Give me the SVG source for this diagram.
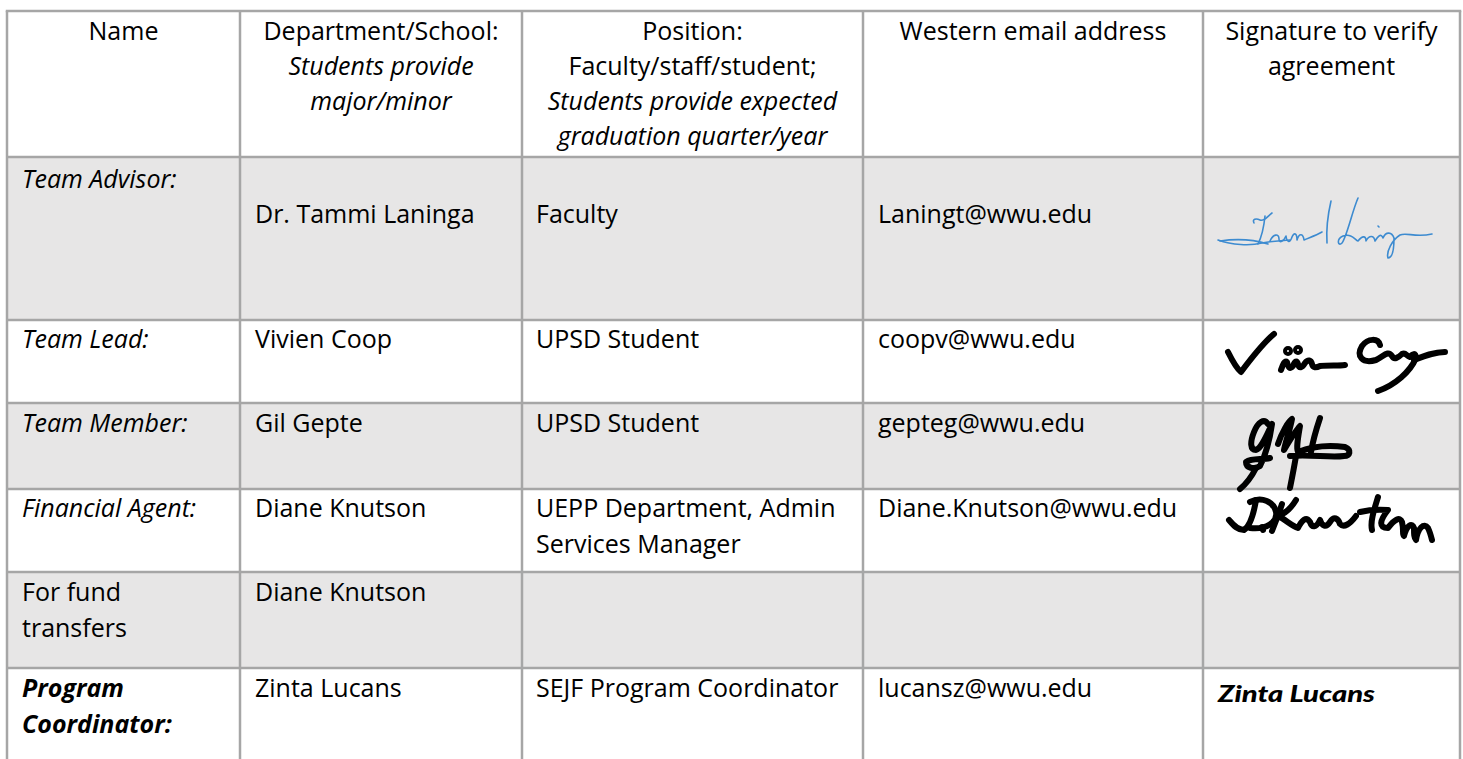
<svg xmlns="http://www.w3.org/2000/svg" width="1463" height="759" viewBox="0 0 1463 759">
<style>
  text { font-family: "Open Sans", "Noto Sans", "Liberation Sans", sans-serif; font-size: 25px; fill: #000; }
  .c { text-anchor: middle; }
  .i { font-style: italic; }
  .b { font-weight: bold; }
  .gray { fill: #E7E6E6; }
  .white { fill: #FFFFFF; }
  .grid line { stroke: #A6A6A6; stroke-width: 2.5; }
  .sig { fill: none; stroke: #000; stroke-width: 6; stroke-linecap: round; stroke-linejoin: round; }
  .sigblue { fill: none; stroke: #3D8BD0; stroke-width: 1.6; stroke-linecap: round; stroke-linejoin: round; }
</style>
<rect x="0" y="0" width="1463" height="759" fill="#FFFFFF"/>
<g id="row-fills">
  <rect class="white" x="7" y="11" width="1453" height="146"/>
  <rect class="gray" x="7" y="157" width="1453" height="163"/>
  <rect class="white" x="7" y="320" width="1453" height="83"/>
  <rect class="gray" x="7" y="403" width="1453" height="86"/>
  <rect class="white" x="7" y="489" width="1453" height="83"/>
  <rect class="gray" x="7" y="572" width="1453" height="96"/>
  <rect class="white" x="7" y="668" width="1453" height="91"/>
</g>
<g id="grid" class="grid">
  <line x1="5.75" y1="11" x2="1461.25" y2="11"/>
  <line x1="7" y1="11" x2="7" y2="759"/>
  <line x1="240" y1="11" x2="240" y2="759"/>
  <line x1="522" y1="11" x2="522" y2="759"/>
  <line x1="863" y1="11" x2="863" y2="759"/>
  <line x1="1203" y1="11" x2="1203" y2="759"/>
  <line x1="1460" y1="11" x2="1460" y2="759"/>
  <line x1="7" y1="157" x2="1460" y2="157"/>
  <line x1="7" y1="320" x2="1460" y2="320"/>
  <line x1="7" y1="403" x2="1460" y2="403"/>
  <line x1="7" y1="489" x2="1460" y2="489"/>
  <line x1="7" y1="572" x2="1460" y2="572"/>
  <line x1="7" y1="668" x2="1460" y2="668"/>
</g>
<g id="header">
  <text class="c" x="123.5" y="40">Name</text>
  <text class="c" x="381" y="40">Department/School:</text>
  <text class="c i" x="381" y="75">Students provide</text>
  <text class="c i" x="381" y="110">major/minor</text>
  <text class="c" x="692.5" y="40">Position:</text>
  <text class="c" x="692.5" y="75">Faculty/staff/student;</text>
  <text class="c i" x="692.5" y="110">Students provide expected</text>
  <text class="c i" x="692.5" y="145">graduation quarter/year</text>
  <text class="c" x="1033" y="40">Western email address</text>
  <text class="c" x="1331.5" y="40">Signature to verify</text>
  <text class="c" x="1331.5" y="75">agreement</text>
</g>
<g id="row-team-advisor">
  <text class="i" x="22" y="188">Team Advisor:</text>
  <text x="255" y="223">Dr. Tammi Laninga</text>
  <text x="536" y="223">Faculty</text>
  <text x="878" y="223">Laningt@wwu.edu</text>
  <g class="sigblue">
    <path d="M1218,240 C1232,245 1250,246 1262,243 C1272,241 1280,241 1290,240"/>
    <path d="M1220,241 C1240,238 1255,240 1268,244"/>
    <path d="M1254,223 C1252,219 1256,218 1260,220 C1264,222 1268,216 1272,213"/>
    <path d="M1265,216 C1264,226 1262,236 1258,244"/>
    <path d="M1270,241 C1273,234 1279,233 1279,239 C1279,244 1284,241 1286,236 C1287,243 1290,243 1292,237 C1294,232 1297,233 1297,240 C1299,233 1303,233 1304,240 C1308,238 1315,236 1322,232"/>
    <path d="M1331,201 C1328,214 1326,228 1327,243"/>
    <path d="M1358,198 C1352,212 1347,236 1342,243 C1338,247 1336,239 1343,236 C1352,233 1355,240 1358,241 C1362,236 1366,235 1366,241 C1369,235 1374,235 1375,241 C1378,236 1381,233 1383,238 C1386,231 1392,232 1394,238 C1394,250 1392,258 1388,258 C1386,252 1392,240 1400,235 C1407,232 1415,238 1432,234"/>
    <path d="M1378,226 L1379,227"/>
  </g>
</g>
<g id="row-team-lead">
  <text class="i" x="22" y="348">Team Lead:</text>
  <text x="255" y="348">Vivien Coop</text>
  <text x="536" y="348">UPSD Student</text>
  <text x="878" y="348">coopv@wwu.edu</text>
  <g class="sig">
    <path d="M1228,352 C1232,360 1236,368 1241,372 C1250,360 1262,344 1274,334"/>
    <path d="M1281,370 C1283,364 1285,360 1287,362 C1288,367 1290,370 1293,366 C1295,361 1297,360 1298,364 C1299,369 1302,368 1305,363 C1308,359 1311,360 1312,364 C1313,368 1316,368 1320,366 C1330,365 1338,366 1345,365"/>
    <circle cx="1288" cy="351" r="2"/>
    <circle cx="1298" cy="350" r="2"/>
    <path d="M1380,345 C1378,338 1368,338 1362,346 C1356,356 1362,364 1376,360 C1384,356 1388,350 1392,356 C1394,360 1398,358 1402,354 C1406,352 1406,356 1410,357 C1412,354 1416,352 1416,358 C1410,372 1395,385 1378,391"/>
    <path d="M1414,360 C1424,356 1434,352 1445,352"/>
  </g>
</g>
<g id="row-team-member">
  <text class="i" x="22" y="432">Team Member:</text>
  <text x="255" y="432">Gil Gepte</text>
  <text x="536" y="432">UPSD Student</text>
  <text x="878" y="432">gepteg@wwu.edu</text>
  <g class="sig">
    <path d="M1268,424 C1264,418 1258,422 1254,432 C1250,442 1250,450 1256,450 C1262,448 1268,432 1272,424 C1270,438 1266,454 1260,466 C1254,470 1246,468 1246,462 C1252,458 1262,460 1270,458"/>
    <path d="M1256,468 C1252,476 1246,484 1240,489"/>
    <path d="M1278,444 C1282,432 1288,422 1292,419 C1290,430 1286,440 1284,450 C1290,440 1296,430 1300,426 C1298,438 1296,448 1298,452 C1308,448 1322,444 1345,447 C1352,450 1350,456 1344,456 C1330,458 1310,454 1290,456"/>
    <path d="M1320,418 C1316,430 1313,440 1311,452"/>
    <path d="M1296,456 C1294,468 1292,478 1290,488"/>
  </g>
</g>
<g id="row-financial-agent">
  <text class="i" x="22" y="517">Financial Agent:</text>
  <text x="255" y="517">Diane Knutson</text>
  <text x="536" y="517">UEPP Department, Admin</text>
  <text x="536" y="553">Services Manager</text>
  <text x="878" y="517">Diane.Knutson@wwu.edu</text>
  <g class="sig">
    <path d="M1229,520 C1234,526 1238,530 1244,530 C1250,526 1254,512 1256,500"/>
    <path d="M1250,502 C1262,496 1274,502 1276,512 C1278,522 1266,530 1250,528"/>
    <path d="M1262,527 L1263,530"/>
    <path d="M1282,504 C1278,516 1274,526 1272,531 M1296,500 C1290,510 1284,514 1278,516 C1286,520 1292,526 1298,528 C1302,520 1306,516 1310,522 C1312,528 1316,528 1320,520 C1322,526 1326,528 1330,522 C1334,516 1338,518 1340,524 C1344,528 1350,524 1356,516"/>
    <path d="M1378,497 C1374,510 1370,522 1372,530 M1360,512 C1368,510 1376,509 1388,510 C1380,520 1378,528 1388,528 C1394,520 1400,516 1402,522 C1404,530 1402,534 1404,536 C1407,525 1412,522 1414,528 C1414,534 1414,538 1416,540 C1418,528 1424,522 1428,528 C1430,532 1431,536 1432,540"/>
  </g>
</g>
<g id="row-fund-transfers">
  <text x="22" y="601">For fund</text>
  <text x="22" y="637">transfers</text>
  <text x="255" y="601">Diane Knutson</text>
</g>
<g id="row-program-coordinator">
  <text class="i b" x="22" y="697">Program</text>
  <text class="i b" x="22" y="733">Coordinator:</text>
  <text x="255" y="697">Zinta Lucans</text>
  <text x="536" y="697">SEJF Program Coordinator</text>
  <text x="878" y="697">lucansz@wwu.edu</text>
  <text x="1218" y="702" style="font-family: 'Lato', 'DejaVu Sans', sans-serif; font-style: italic; font-weight: 900; font-size: 22px;" textLength="157" lengthAdjust="spacingAndGlyphs">Zinta Lucans</text>
</g>
</svg>
